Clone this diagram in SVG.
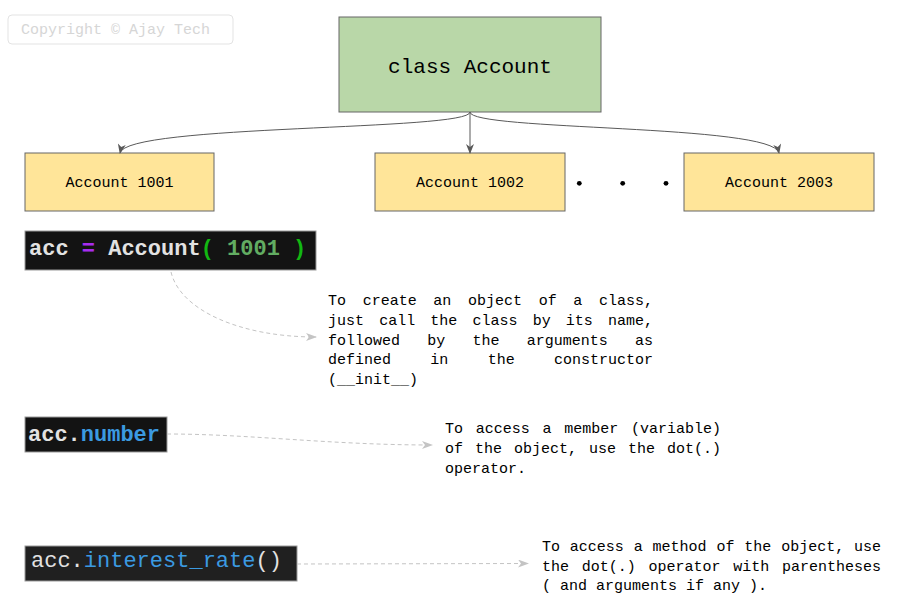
<svg xmlns="http://www.w3.org/2000/svg" width="921" height="616" viewBox="0 0 921 616">
<defs>
<style>
.mono{font-family:"Liberation Mono","DejaVu Sans Mono",monospace;}
.lbl{font-size:15px;fill:#000;}
.box{stroke:#666;stroke-width:1;}
.acct{fill:#ffe599;}
.edge{fill:none;stroke:#595959;stroke-width:1;}
.dash{fill:none;stroke:#c4c4c4;stroke-width:1;stroke-dasharray:4 3;}
.code{font-size:22px;}
.wt{fill:#e2e2e2;}
.bl{fill:#3b9ae1;}
.txt{font-size:15px;fill:#000;}
</style>
<marker id="ah" markerWidth="10" markerHeight="8" refX="9" refY="4" orient="auto" markerUnits="userSpaceOnUse">
<path d="M0,0 L10,4 L0,8 L3,4 Z" fill="#595959"/>
</marker>
<marker id="ahg" markerWidth="11" markerHeight="8" refX="10" refY="4" orient="auto" markerUnits="userSpaceOnUse">
<path d="M0,0 L11,4 L0,8 L3,4 Z" fill="#c4c4c4"/>
</marker>
</defs>
<rect width="921" height="616" fill="#fff"/>

<g id="copyright">
<rect x="8" y="15" width="225" height="29" rx="4" fill="#fff" stroke="#e3e3e3"/>
<text class="mono" x="21" y="34" font-size="15" fill="#d6d6d6">Copyright © Ajay Tech</text>
</g>

<g id="class-account">
<rect class="box" x="339" y="17" width="262" height="95" fill="#b9d7a8"/>
<text class="mono" x="470" y="73" font-size="21" text-anchor="middle" fill="#000">class Account</text>
</g>

<g id="account-1001">
<rect class="box acct" x="25" y="153" width="189" height="58"/>
<text class="mono lbl" x="119.5" y="187" text-anchor="middle">Account 1001</text>
</g>
<g id="account-1002">
<rect class="box acct" x="375" y="153" width="190" height="58"/>
<text class="mono lbl" x="470" y="187" text-anchor="middle">Account 1002</text>
</g>
<g id="account-2003">
<rect class="box acct" x="684" y="153" width="190" height="58"/>
<text class="mono lbl" x="779" y="187" text-anchor="middle">Account 2003</text>
</g>

<g id="ellipsis" fill="#000">
<circle cx="579.3" cy="183.3" r="2.4"/>
<circle cx="622.7" cy="183.3" r="2.4"/>
<circle cx="666" cy="183.3" r="2.4"/>
</g>

<g id="code-create">
<rect x="25" y="231" width="291" height="39" fill="#131313" stroke="#9a9a9a"/>
<text class="mono code" x="29" y="255" font-weight="bold" xml:space="preserve"><tspan class="wt">acc </tspan><tspan fill="#a62cf0">=</tspan><tspan class="wt"> Account</tspan><tspan fill="#12b812">(</tspan><tspan fill="#62ad62"> 1001 </tspan><tspan fill="#12b812">)</tspan></text>
</g>

<g id="code-member">
<rect x="25" y="417" width="142" height="35" fill="#131313" stroke="#9a9a9a"/>
<text class="mono code" x="28" y="441" font-weight="bold"><tspan class="wt">acc.</tspan><tspan class="bl">number</tspan></text>
</g>

<g id="code-method">
<rect x="25" y="546" width="272" height="35" fill="#202020" stroke="#9a9a9a"/>
<text class="mono code" x="31" y="567"><tspan class="wt">acc.</tspan><tspan class="bl">interest_rate</tspan><tspan class="wt">()</tspan></text>
</g>

<g id="note-create" class="mono txt">
<text y="305"><tspan x="328">To</tspan><tspan x="362.67">create</tspan><tspan x="433.33">an</tspan><tspan x="468">object</tspan><tspan x="538.67">of</tspan><tspan x="573.33">a</tspan><tspan x="599">class,</tspan></text>
<text y="325"><tspan x="328">just</tspan><tspan x="379.17">call</tspan><tspan x="430.33">the</tspan><tspan x="472.5">class</tspan><tspan x="532.67">by</tspan><tspan x="565.83">its</tspan><tspan x="608">name,</tspan></text>
<text y="344.5"><tspan x="328">followed</tspan><tspan x="427.25">by</tspan><tspan x="472.5">the</tspan><tspan x="526.75">arguments</tspan><tspan x="635">as</tspan></text>
<text y="364"><tspan x="328">defined</tspan><tspan x="430.33">in</tspan><tspan x="487.67">the</tspan><tspan x="554">constructor</tspan></text>
<text y="384" x="328">(__init__)</text>
</g>

<g id="note-member" class="mono txt">
<text y="433"><tspan x="445">To</tspan><tspan x="475.75">access</tspan><tspan x="542.5">a</tspan><tspan x="564.25">member</tspan><tspan x="631">(variable)</tspan></text>
<text y="453"><tspan x="445">of</tspan><tspan x="475">the</tspan><tspan x="514">object,</tspan><tspan x="589">use</tspan><tspan x="628">the</tspan><tspan x="667">dot(.)</tspan></text>
<text y="473" x="445">operator.</text>
</g>

<g id="note-method" class="mono txt">
<text y="550.5"><tspan x="542">To</tspan><tspan x="569.86">access</tspan><tspan x="633.71">a</tspan><tspan x="652.57">method</tspan><tspan x="716.43">of</tspan><tspan x="744.29">the</tspan><tspan x="781.14">object,</tspan><tspan x="854">use</tspan></text>
<text y="570.5"><tspan x="542">the</tspan><tspan x="581.75">dot(.)</tspan><tspan x="648.5">operator</tspan><tspan x="733.25">with</tspan><tspan x="782">parentheses</tspan></text>
<text y="590" x="542">( and arguments if any ).</text>
</g>

<g id="connectors">
<path class="edge" d="M470,112 C470,131 126,124 120,153" marker-end="url(#ah)"/>
<path class="edge" d="M470,112 L470,153" marker-end="url(#ah)"/>
<path class="edge" d="M470,112 C470,131 773,124 779,153" marker-end="url(#ah)"/>
<path class="dash" d="M171,272 C180,310 240,337 316,337" marker-end="url(#ahg)"/>
<path class="dash" d="M167,434 C250,434 330,445 432,445" marker-end="url(#ahg)"/>
<path class="dash" d="M297,564 L528,563.5" marker-end="url(#ahg)"/>
</g>
</svg>
